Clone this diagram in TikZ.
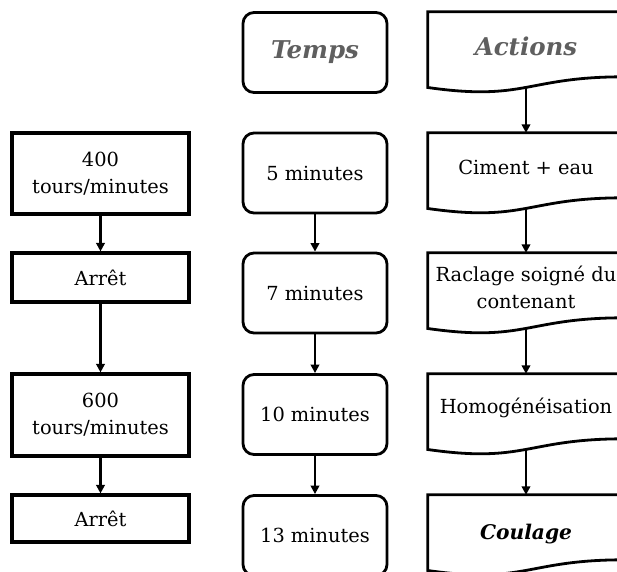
\documentclass[tikz,border=0pt]{standalone}
\usepackage{fontspec}
\setmainfont{DejaVu Serif}
\usetikzlibrary{arrows.meta,calc}
\definecolor{headgray}{RGB}{95,95,95}
\tikzset{
  base/.style={font=\fontsize{19.4}{27}\selectfont, align=center, inner sep=0pt},
  sqbox/.style={base, draw, line width=3.2pt, minimum width=177pt},
  rbox/.style={base, draw, line width=2.8pt, rounded corners=11pt, minimum width=144pt, minimum height=80pt},
  docbox/.style={base, minimum width=196pt, minimum height=68pt},
  docline/.style={line width=2.8pt, line join=miter},
  headtxt/.style={font=\fontsize{24.5}{27}\selectfont\bfseries\itshape, text=headgray},
  boldit/.style={font=\fontsize{20.2}{27}\selectfont\bfseries\itshape},
  link/.style={line width=2.3pt, -{Triangle[length=8.5pt,width=8.5pt]}}
}
\begin{document}
\begin{tikzpicture}[x=1pt,y=-1pt]
\useasboundingbox (0,0) rectangle (617,571);
\clip (0,0) rectangle (617,571);
% left column
\node[sqbox, minimum height=81pt] (l1) at (100.5,173.5) {400\\tours/minutes};
\node[sqbox, minimum height=49pt] (l2) at (100.5,277.5) {Arrêt};
\node[sqbox, minimum height=82pt] (l3) at (100.5,415) {600\\tours/minutes};
\node[sqbox, minimum height=47pt] (l4) at (100.5,518.5) {Arrêt};
% middle column
\node[rbox, headtxt] (m0) at (315,52.5) {Temps};
\node[rbox] (m1) at (315,173) {5 minutes};
\node[rbox] (m2) at (315,293) {7 minutes};
\node[rbox] (m3) at (315,414.5) {10 minutes};
\node[rbox] (m4) at (315,535.5) {13 minutes};
% right column
\node[docbox, headtxt] (act) at (526,46) {Actions};
\node[docbox] (cim) at (526,167) {Ciment + eau};
\node[docbox] (rac) at (526,287) {Raclage soigné du\\contenant};
\node[docbox] (hom) at (526,408) {Homogénéisation};
\node[docbox, boldit, minimum height=78pt] (cou) at (526,534) {Coulage};
\foreach \n in {act,cim,rac,hom,cou}{
  \draw[docline] (\n.north west) -- (\n.north east) -- ($(\n.north east)+(0,65)$)
    .. controls ($(\n.north)+(0,65)$) and ($(\n.north)+(0,89.7)$) .. ($(\n.north west)+(0,75.7)$) -- cycle;
}
% connectors
\draw[link] (l1) -- (l2);
\draw[link] (l2) -- (l3);
\draw[link] (l3) -- (l4);
\draw[link] (m1) -- (m2);
\draw[link] (m2) -- (m3);
\draw[link] (m3) -- (m4);
\draw[link] ($(act.north)+(0,75.6)$) -- (cim.north);
\draw[link] ($(cim.north)+(0,75.6)$) -- (rac.north);
\draw[link] ($(rac.north)+(0,75.6)$) -- (hom.north);
\draw[link] ($(hom.north)+(0,75.6)$) -- (cou.north);
\end{tikzpicture}
\end{document}
